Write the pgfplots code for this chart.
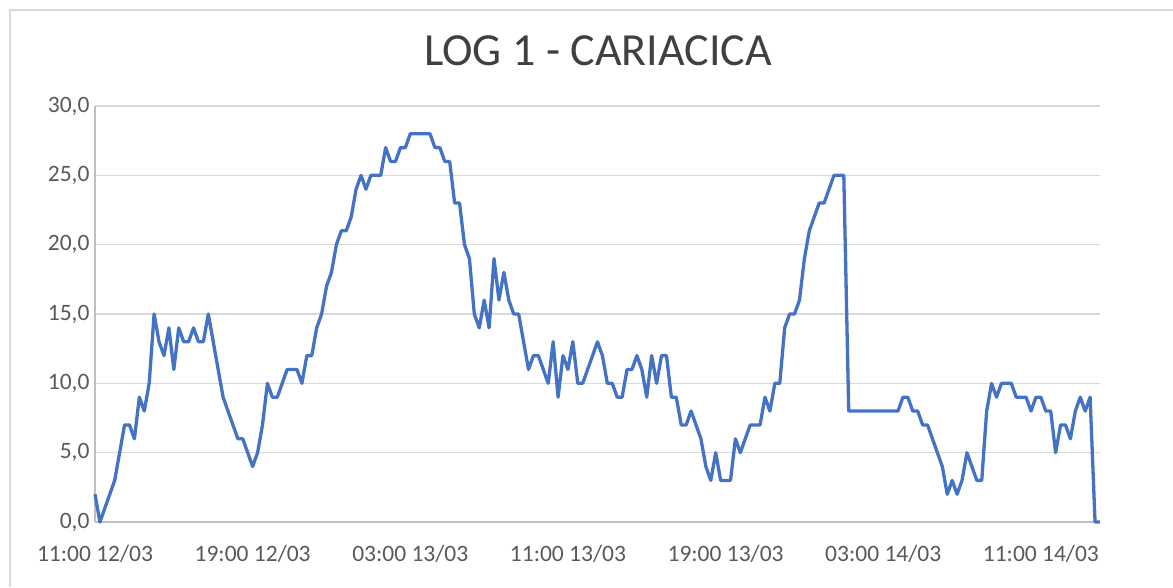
\documentclass[border=0pt]{standalone}
\usepackage{pgfplots}
\pgfplotsset{compat=1.18}
\usepackage{fontspec}
\setmainfont{Carlito}
\definecolor{lineblue}{HTML}{4472C4}
\definecolor{gridgrey}{HTML}{D9D9D9}
\definecolor{axisgrey}{HTML}{BFBFBF}
\definecolor{labelgrey}{HTML}{595959}
\definecolor{titlegrey}{HTML}{404040}
\begin{document}
\begin{tikzpicture}
\useasboundingbox (0,0) rectangle (1173pt,587pt);
\draw[gridgrey, line width=1.5pt] (10pt,0pt) -- (10pt,577pt) -- (1173pt,577pt);
\node[font=\fontsize{46}{52}\selectfont, text=titlegrey, anchor=center] at (598pt,536pt) {LOG 1 - CARIACICA};
\begin{axis}[
  at={(95pt,65pt)}, anchor=south west,
  scale only axis, width=1005pt, height=416pt,
  xmin=0, xmax=51, ymin=0, ymax=30,
  axis lines=left,
  axis line style={axisgrey, line width=1.2pt, -},
  xtick={0,8,16,24,32,40,48},
  xticklabels={11:00 12/03, 19:00 12/03, 03:00 13/03, 11:00 13/03, 19:00 13/03, 03:00 14/03, 11:00 14/03},
  ytick={0,5,10,15,20,25,30},
  yticklabels={{0,0},{5,0},{10,0},{15,0},{20,0},{25,0},{30,0}},
  major tick length=0pt,
  ymajorgrids,
  major grid style={gridgrey, line width=1.5pt},
  tick label style={font=\fontsize{23.5}{28}\selectfont, text=labelgrey},
  xticklabel style={yshift=-20pt},
  yticklabel style={xshift=-2pt},
  clip=false,
]
\addplot[lineblue, line width=3.3pt, line join=round] coordinates {
(0,2) (0.25,0) (1.0,3) (1.5,7) (1.75,7) (2.0,6) (2.25,9) (2.5,8) (2.75,10) (3.0,15)
(3.25,13) (3.5,12) (3.75,14) (4.0,11) (4.25,14) (4.5,13) (4.75,13) (5.0,14) (5.25,13) (5.5,13)
(5.75,15) (6.0,13) (6.25,11) (6.5,9) (7.25,6) (7.5,6) (8.0,4) (8.25,5) (8.5,7) (8.75,10)
(9.0,9) (9.25,9) (9.75,11) (10.25,11) (10.5,10) (10.75,12) (11.0,12) (11.25,14) (11.5,15) (11.75,17)
(12.0,18) (12.25,20) (12.5,21) (12.75,21) (13.0,22) (13.25,24) (13.5,25) (13.75,24) (14.0,25) (14.5,25)
(14.75,27) (15.0,26) (15.25,26) (15.5,27) (15.75,27) (16.0,28) (17.0,28) (17.25,27) (17.5,27) (17.75,26)
(18.0,26) (18.25,23) (18.5,23) (18.75,20) (19.0,19) (19.25,15) (19.5,14) (19.75,16) (20.0,14) (20.25,19)
(20.5,16) (20.75,18) (21.0,16) (21.25,15) (21.5,15) (22.0,11) (22.25,12) (22.5,12) (23.0,10) (23.25,13)
(23.5,9) (23.75,12) (24.0,11) (24.25,13) (24.5,10) (24.75,10) (25.5,13) (25.75,12) (26.0,10) (26.25,10)
(26.5,9) (26.75,9) (27.0,11) (27.25,11) (27.5,12) (27.75,11) (28.0,9) (28.25,12) (28.5,10) (28.75,12)
(29.0,12) (29.25,9) (29.5,9) (29.75,7) (30.0,7) (30.25,8) (30.5,7) (30.75,6) (31.0,4) (31.25,3)
(31.5,5) (31.75,3) (32.25,3) (32.5,6) (32.75,5) (33.25,7) (33.75,7) (34.0,9) (34.25,8) (34.5,10)
(34.75,10) (35.0,14) (35.25,15) (35.5,15) (35.75,16) (36.0,19) (36.25,21) (36.5,22) (36.75,23) (37.0,23)
(37.25,24) (37.5,25) (38.0,25) (38.25,8) (40.75,8) (41.0,9) (41.25,9) (41.5,8) (41.75,8) (42.0,7)
(42.25,7) (43.0,4) (43.25,2) (43.5,3) (43.75,2) (44.0,3) (44.25,5) (44.75,3) (45.0,3) (45.25,8)
(45.5,10) (45.75,9) (46.0,10) (46.5,10) (46.75,9) (47.25,9) (47.5,8) (47.75,9) (48.0,9) (48.25,8)
(48.5,8) (48.75,5) (49.0,7) (49.25,7) (49.5,6) (49.75,8) (50.0,9) (50.25,8) (50.5,9) (50.75,0)
(51.0,0)
};
\end{axis}
\end{tikzpicture}
\end{document}
